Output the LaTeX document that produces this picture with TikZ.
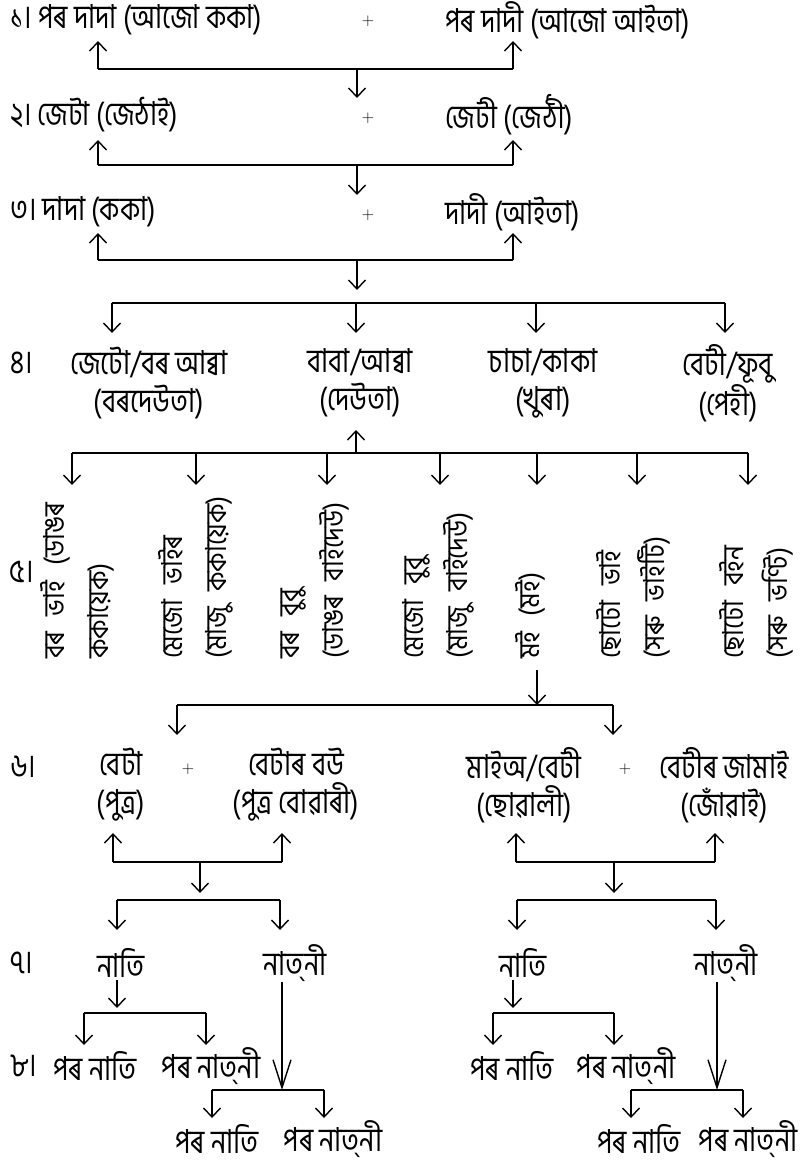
\documentclass[tikz,border=0pt]{standalone}
\usepackage{fontspec}
\newfontfamily\asfont[Script=Bengali,FakeStretch=0.82]{Hind Siliguri}
\newfontfamily\asfontv[Script=Bengali,FakeStretch=0.9]{Hind Siliguri}
\newcommand{\vtermfont}{\asfontv\fontsize{29}{44}\selectfont\spaceskip 15pt\relax}
\usetikzlibrary{arrows.meta}
\tikzstyle{term} = [font=\asfont\fontsize{33}{38}\selectfont,inner sep=0pt,align=center]
\tikzstyle{vterm} = [term,rotate=90,anchor=west,align=left,font=\vtermfont]
\tikzstyle{plussign} = [font=\fontsize{17}{17}\selectfont,inner sep=0pt]
\tikzstyle{connector} = [-{Straight Barb[length=9pt,width=17pt]},line width=1.4pt]
\tikzstyle{longconnector} = [-{Straight Barb[length=28pt,width=18pt]},line width=1.4pt]
\tikzstyle{line} = [line width=2.6pt]

\begin{document}
\begin{tikzpicture}[x=1pt,y=-1pt]
    \useasboundingbox (0,0) rectangle (806,1167);
    % generations 1 to 3
    \node[term,anchor=west] (pdada) at (10,20) {১। পৰ দাদা (আজো ককা)};
    \node[plussign] (plus1) at (368,21) {+};
    \node[term,anchor=west] (pdadi) at (445,20) {পৰ দাদী (আজো আইতা)};
    \node[term,anchor=west] (jeta) at (10,115) {২। জেটা (জেঠাই)};
    \node[plussign] (plus2) at (368,118) {+};
    \node[term,anchor=west] (jeti) at (445,115) {জেটী (জেঠী)};
    \node[term,anchor=west] (dada) at (10,212) {৩। দাদা (ককা)};
    \node[plussign] (plus3) at (368,215) {+};
    \node[term,anchor=west] (dadi) at (445,212) {দাদী (আইতা)};
    % generation 4
    \node[term,anchor=west] (lbl4) at (10,363) {৪।};
    \node[term] (jetu) at (149,383) {জেটো/বৰ আব্বা\\(বৰদেউতা)};
    \node[term] (baba) at (360,383) {বাবা/আব্বা\\(দেউতা)};
    \node[term] (chacha) at (543,383) {চাচা/কাকা\\(খুৰা)};
    \node[term] (beti) at (728,383) {বেটী/ফূবু\\(পেহী)};
    % generation 5, written upwards
    \node[term] (lbl5) at (22,572) {৫।};
    \node[vterm] (borbhai) at (77,659) {বৰ ভাই (ডাঙৰ\\ককায়েক)};
    \node[vterm] (mejobhai) at (196,659) {মেজো ভাইৰ\\(মাজু ককায়েক)};
    \node[vterm] (borbubu) at (315,659) {বৰ বুবু\\(ডাঙৰ বাইদেউ)};
    \node[vterm] (mejobubu) at (438,659) {মেজো বুবু\\(মাজু বাইদেউ)};
    \node[vterm] (moi) at (530,659) {মই (মই)};
    \node[vterm] (chotobhai) at (633,659) {ছোটো ভাই\\(সৰু ভাইটি)};
    \node[vterm] (chotobon) at (756,659) {ছোটো বইন\\(সৰু ভণ্টি)};
    % generation 6
    \node[term,anchor=west] (lbl6) at (10,767) {৬।};
    \node[term] (beta) at (121,785) {বেটা\\(পুত্র)};
    \node[plussign] (plus6a) at (188,769) {+};
    \node[term] (bou) at (296,785) {বেটাৰ বউ\\(পুত্র বোৱাৰী)};
    \node[term] (mai) at (524,785) {মাইঅ/বেটী\\(ছোৱালী)};
    \node[plussign] (plus6b) at (625,769) {+};
    \node[term] (jamai) at (724,785) {বেটীৰ জামাই\\(জোঁৱাই)};
    % generation 7
    \node[term,anchor=west] (lbl7) at (10,963) {৭।};
    \node[term] (nati1) at (121,963) {নাতি};
    \node[term] (natni1) at (295,963) {নাত্^^^^200cনী};
    \node[term] (nati2) at (523,963) {নাতি};
    \node[term] (natni2) at (726,963) {নাত্^^^^200cনী};
    % generation 8
    \node[term,anchor=west] (lbl8) at (10,1066) {৮।};
    \node[term] (pnati1) at (95,1066) {পৰ নাতি};
    \node[term] (pnatni1) at (211,1066) {পৰ নাত্^^^^200cনী};
    \node[term] (pnati2) at (512,1066) {পৰ নাতি};
    \node[term] (pnatni2) at (626,1066) {পৰ নাত্^^^^200cনী};
    \node[term] (pnati3) at (217,1139) {পৰ নাতি};
    \node[term] (pnatni3) at (333,1139) {পৰ নাত্^^^^200cনী};
    \node[term] (pnati4) at (639,1139) {পৰ নাতি};
    \node[term] (pnatni4) at (748,1139) {পৰ নাত্^^^^200cনী};

    % junctions and arrow ends
    \coordinate (b1w) at (98,69);   \coordinate (b1e) at (513,69);   \coordinate (b1m) at (357,69);
    \coordinate (t1u) at (0,41);    \coordinate (t1d) at (0,98);
    \coordinate (b2w) at (98,165);  \coordinate (b2e) at (513,165);  \coordinate (b2m) at (357,165);
    \coordinate (t2u) at (0,140);   \coordinate (t2d) at (0,195);
    \coordinate (b3w) at (98,260);  \coordinate (b3e) at (513,260);  \coordinate (b3m) at (357,260);
    \coordinate (t3u) at (0,233);   \coordinate (t3d) at (0,290);
    \coordinate (b4w) at (112,303); \coordinate (b4e) at (725,303);
    \coordinate (b4b) at (356,303); \coordinate (b4c) at (536,303);
    \coordinate (t4d) at (0,333);
    \coordinate (b5w) at (72,453);  \coordinate (b5e) at (748,453);
    \coordinate (b5b) at (196,453); \coordinate (b5c) at (327,453); \coordinate (b5m) at (356,453);
    \coordinate (b5d) at (440,453); \coordinate (b5f) at (537,453); \coordinate (b5g) at (637,453);
    \coordinate (t5u) at (0,430);   \coordinate (t5d) at (0,485);
    \coordinate (m5) at (537,670);  \coordinate (b6m) at (537,705);
    \coordinate (b6w) at (177,705); \coordinate (b6e) at (613,705);
    \coordinate (t6d) at (0,735);
    \coordinate (b7w) at (113,862); \coordinate (b7e) at (282,862); \coordinate (b7m) at (200,862);
    \coordinate (b7W) at (516,862); \coordinate (b7E) at (715,862); \coordinate (b7M) at (614,862);
    \coordinate (t7u) at (0,833);   \coordinate (t7d) at (0,893);
    \coordinate (b8w) at (117,900); \coordinate (b8e) at (280,900);
    \coordinate (b8W) at (517,900); \coordinate (b8E) at (716,900);
    \coordinate (t8d) at (0,930);
    \coordinate (n1) at (117,980);  \coordinate (n2) at (513,980);  \coordinate (t9n) at (0,1008);
    \coordinate (b9w) at (84,1013); \coordinate (b9e) at (206,1013);
    \coordinate (b9W) at (493,1013); \coordinate (b9E) at (614,1013);
    \coordinate (t9d) at (0,1045);
    \coordinate (l1) at (282,982);  \coordinate (l2) at (717,982);  \coordinate (t10l) at (0,1090);
    \coordinate (b10w) at (212,1090); \coordinate (b10e) at (324,1090);
    \coordinate (b10W) at (631,1090); \coordinate (b10E) at (743,1090);
    \coordinate (t10d) at (0,1118);

    % now link the nodes
    \draw [line] (b1w) -- (b1e);
    \draw [connector] (b1w) -- (b1w |- t1u);
    \draw [connector] (b1e) -- (b1e |- t1u);
    \draw [connector] (b1m) -- (b1m |- t1d);
    \draw [line] (b2w) -- (b2e);
    \draw [connector] (b2w) -- (b2w |- t2u);
    \draw [connector] (b2e) -- (b2e |- t2u);
    \draw [connector] (b2m) -- (b2m |- t2d);
    \draw [line] (b3w) -- (b3e);
    \draw [connector] (b3w) -- (b3w |- t3u);
    \draw [connector] (b3e) -- (b3e |- t3u);
    \draw [connector] (b3m) -- (b3m |- t3d);
    \draw [line] (b4w) -- (b4e);
    \draw [connector] (b4w) -- (b4w |- t4d);
    \draw [connector] (b4b) -- (b4b |- t4d);
    \draw [connector] (b4c) -- (b4c |- t4d);
    \draw [connector] (b4e) -- (b4e |- t4d);
    \draw [connector] (b5m) -- (b5m |- t5u);
    \draw [line] (b5w) -- (b5e);
    \draw [connector] (b5w) -- (b5w |- t5d);
    \draw [connector] (b5b) -- (b5b |- t5d);
    \draw [connector] (b5c) -- (b5c |- t5d);
    \draw [connector] (b5d) -- (b5d |- t5d);
    \draw [connector] (b5f) -- (b5f |- t5d);
    \draw [connector] (b5g) -- (b5g |- t5d);
    \draw [connector] (b5e) -- (b5e |- t5d);
    \draw [connector] (m5) -- (b6m);
    \draw [line] (b6w) -- (b6e);
    \draw [connector] (b6w) -- (b6w |- t6d);
    \draw [connector] (b6e) -- (b6e |- t6d);
    \draw [line] (b7w) -- (b7e);
    \draw [connector] (b7w) -- (b7w |- t7u);
    \draw [connector] (b7e) -- (b7e |- t7u);
    \draw [connector] (b7m) -- (b7m |- t7d);
    \draw [line] (b7W) -- (b7E);
    \draw [connector] (b7W) -- (b7W |- t7u);
    \draw [connector] (b7E) -- (b7E |- t7u);
    \draw [connector] (b7M) -- (b7M |- t7d);
    \draw [line] (b8w) -- (b8e);
    \draw [connector] (b8w) -- (b8w |- t8d);
    \draw [connector] (b8e) -- (b8e |- t8d);
    \draw [line] (b8W) -- (b8E);
    \draw [connector] (b8W) -- (b8W |- t8d);
    \draw [connector] (b8E) -- (b8E |- t8d);
    \draw [connector] (n1) -- (n1 |- t9n);
    \draw [connector] (n2) -- (n2 |- t9n);
    \draw [line] (b9w) -- (b9e);
    \draw [connector] (b9w) -- (b9w |- t9d);
    \draw [connector] (b9e) -- (b9e |- t9d);
    \draw [line] (b9W) -- (b9E);
    \draw [connector] (b9W) -- (b9W |- t9d);
    \draw [connector] (b9E) -- (b9E |- t9d);
    \draw [longconnector] (l1) -- (l1 |- t10l);
    \draw [longconnector] (l2) -- (l2 |- t10l);
    \draw [line] (b10w) -- (b10e);
    \draw [connector] (b10w) -- (b10w |- t10d);
    \draw [connector] (b10e) -- (b10e |- t10d);
    \draw [line] (b10W) -- (b10E);
    \draw [connector] (b10W) -- (b10W |- t10d);
    \draw [connector] (b10E) -- (b10E |- t10d);
\end{tikzpicture}
\end{document}
